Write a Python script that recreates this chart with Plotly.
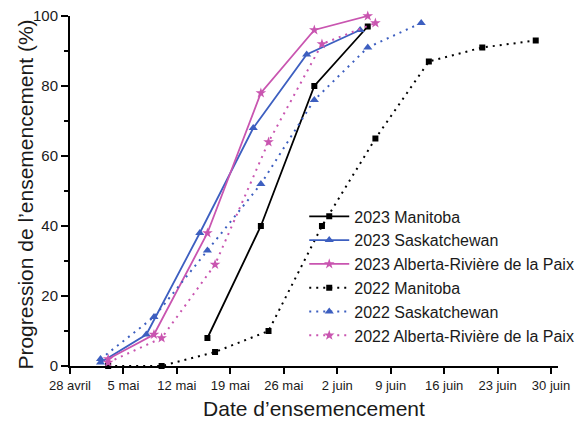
import plotly.graph_objects as go

REF_YEAR = "2000"

# Tick positions (month-day) and French labels
tick_dates = ["04-28", "05-05", "05-12", "05-19", "05-26", "06-02", "06-09", "06-16", "06-23", "06-30"]
tick_labels = ["28 avril", "5 mai", "12 mai", "19 mai", "26 mai", "2 juin", "9 juin", "16 juin", "23 juin", "30 juin"]

# 2023 series
mb2023_dates = ["05-16", "05-23", "05-30", "06-06"]
mb2023_vals = [8, 40, 80, 97]

sk2023_dates = ["05-02", "05-08", "05-15", "05-22", "05-29", "06-05"]
sk2023_vals = [1, 9, 38, 68, 89, 96]

ab2023_dates = ["05-03", "05-09", "05-16", "05-23", "05-30", "06-06"]
ab2023_vals = [2, 9, 38, 78, 96, 100]

# 2022 series
mb2022_dates = ["05-03", "05-10", "05-17", "05-24", "05-31", "06-07", "06-14", "06-21", "06-28"]
mb2022_vals = [0, 0, 4, 10, 40, 65, 87, 91, 93]

sk2022_dates = ["05-02", "05-09", "05-16", "05-23", "05-30", "06-06", "06-13"]
sk2022_vals = [2, 14, 33, 52, 76, 91, 98]

ab2022_dates = ["05-03", "05-10", "05-17", "05-24", "05-31", "06-07"]
ab2022_vals = [1, 8, 29, 64, 92, 98]

names = [
    "2023 Manitoba", "2023 Saskatchewan", "2023 Alberta-Rivière de la Paix",
    "2022 Manitoba", "2022 Saskatchewan", "2022 Alberta-Rivière de la Paix",
]

BLACK = "#000000"
BLUE = "#3d5fc0"
PINK = "#c955b0"


def d(md):
    return [f"{REF_YEAR}-{x}" for x in md]


series = [
    (mb2023_dates, mb2023_vals, BLACK, "solid", "square", 6),
    (sk2023_dates, sk2023_vals, BLUE, "solid", "triangle-up", 8),
    (ab2023_dates, ab2023_vals, PINK, "solid", "star", 8),
    (mb2022_dates, mb2022_vals, BLACK, "2px,5px", "square", 6),
    (sk2022_dates, sk2022_vals, BLUE, "2px,5px", "triangle-up", 8),
    (ab2022_dates, ab2022_vals, PINK, "2px,5px", "star", 8),
]

fig = go.Figure()
for name, (dates, vals, color, dash, sym, size) in zip(names, series):
    fig.add_trace(go.Scatter(
        x=d(dates), y=vals, name=name, mode="lines+markers",
        line=dict(color=color, width=1.8 if dash == "solid" else 2, dash=dash),
        marker=dict(symbol=sym, size=size, color=color, line=dict(width=0)),
        cliponaxis=False,
    ))

fig.update_layout(
    width=584, height=422,
    margin=dict(l=70, r=26, t=16, b=56, autoexpand=False),
    plot_bgcolor="white", paper_bgcolor="white",
    font=dict(family="Liberation Sans, Arial, sans-serif", color="#1a1a1a"),
    showlegend=True,
    legend=dict(
        x=0.48, y=0.476, xanchor="left", yanchor="top",
        bgcolor="rgba(0,0,0,0)", font=dict(size=16, color="#1a1a1a"),
        itemwidth=40, tracegroupgap=0,
    ),
    annotations=[dict(
        text="Progression de l’ensemencement (%)", textangle=-90,
        xref="paper", yref="paper", x=-0.092, y=0.49,
        xanchor="center", yanchor="middle", showarrow=False,
        font=dict(size=21, color="#1a1a1a"),
    )],
)

fig.update_xaxes(
    type="date", automargin=False,
    range=[f"{REF_YEAR}-04-28", f"{REF_YEAR}-06-30 22:00"],
    tickvals=d(tick_dates), ticktext=tick_labels,
    tickfont=dict(size=13, color="#1a1a1a"),
    showline=True, linecolor="black", linewidth=2,
    ticks="outside", ticklen=6, tickwidth=2, tickcolor="black",
    showgrid=False, zeroline=False,
    title=dict(text="Date d’ensemencement", font=dict(size=21, color="#1a1a1a"), standoff=10),
)

fig.update_yaxes(
    range=[0, 100], automargin=False,
    tickvals=[0, 20, 40, 60, 80, 100],
    tickfont=dict(size=15, color="#1a1a1a"),
    showline=True, linecolor="black", linewidth=2,
    ticks="outside", ticklen=7, tickwidth=2, tickcolor="black",
    minor=dict(tickvals=[10, 30, 50, 70, 90], ticks="outside", ticklen=4, tickwidth=2, tickcolor="black"),
    showgrid=False, zeroline=False,
)

fig.write_html(
    "out.html",
    config={"displayModeBar": False},
    post_script="document.body.style.margin='0';document.body.style.overflow='hidden';",
)
